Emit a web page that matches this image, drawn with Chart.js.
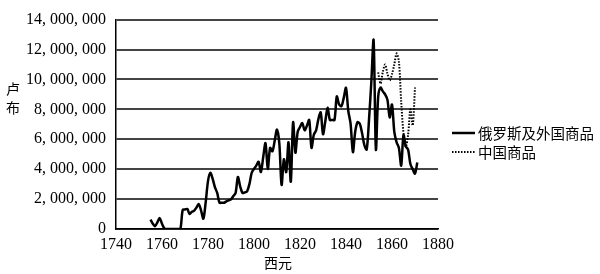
<!DOCTYPE html>
<html>
<head>
<meta charset="utf-8">
<script src="https://cdn.jsdelivr.net/npm/chart.js@4/dist/chart.umd.min.js"></script>
<style>
  body { margin: 0; background: #fff; }
  canvas { display: block; }
</style>
</head>
<body>
<canvas id="chart_c" width="600" height="274"></canvas>
<script>
// years on the x axis, values in millions of roubles
const years = []
for (let y = 1755; y <= 1871; y++) years.push(y)

const russianForeign = [
  0.63, 0.35, 0.19, 0.45, 0.73, 0.35, 0.05, 0, 0, 0,      // 1755-1764
  0, 0, 0, 0, 1.27, 1.3, 1.34, 1.01, 1.15, 1.23,          // 1765-1774
  1.44, 1.66, 1.23, 0.69, 1.8, 3.2, 3.76, 3.37, 2.8, 2.41, // 1775-1784
  1.76, 1.76, 1.76, 1.85, 1.92, 1.98, 2.2, 2.41, 3.48, 2.84, // 1785-1794
  2.41, 2.45, 2.52, 3.0, 3.76, 4.02, 4.24, 4.5, 3.81, 4.8,  // 1795-1804
  5.74, 4.02, 5.42, 5.2, 5.9, 6.65, 5.74, 2.95, 4.66, 3.8,  // 1805-1814
  5.79, 3.16, 7.14, 5.1, 6.5, 6.82, 7.08, 6.6, 6.9, 7.29,   // 1815-1824
  5.42, 6.3, 6.6, 7.35, 7.79, 6.34, 7.2, 8.11, 7.29, 7.29,  // 1825-1834
  7.29, 8.86, 8.32, 8.21, 8.75, 9.44, 7.89, 7.03, 5.14, 6.5, // 1835-1844
  7.14, 7.03, 6.4, 5.6, 5.31, 7.3, 9.8, 12.63, 5.31, 8.86,  // 1845-1854
  9.46, 9.2, 9.0, 8.65, 7.46, 8.32, 6.5, 5.8, 5.42, 4.24,   // 1855-1864
  6.28, 5.53, 5.31, 4.34, 4.0, 3.7, 4.45                    // 1865-1871
]

const chineseFirstYear = 1854
const chinese = [
  10.47, 9.72, 10.5, 11.0, 10.4, 9.94, 10.35, 11.0, 11.74, 11.2, // 1854-1863
  8.5, 6.4, 5.5, 6.3, 8.0, 6.92, 9.46                              // 1864-1870
]

const seriesNames = ['俄罗斯及外国商品', '中国商品']
const yTicks = [0, 2, 4, 6, 8, 10, 12, 14]
const xTicks = [1740, 1760, 1780, 1800, 1820, 1840, 1860, 1880]

const serif = '"Liberation Serif", "Times New Roman", serif'
const cjk = '"Noto Sans CJK SC", sans-serif'

const fmt = (v) => {
  const n = Math.round(v * 1000000)
  return n === 0 ? '0' : n.toLocaleString('en-US').replace(/,/g, ', ')
}

const extras = {
  id: 'extras',
  afterDraw(chart) {
    const ctx = chart.ctx
    ctx.save()
    ctx.fillStyle = '#000'
    ctx.font = '14px ' + cjk
    ctx.textAlign = 'center'
    ctx.textBaseline = 'middle'
    // y title, stacked
    ctx.fillText('卢', 13, 89)
    ctx.fillText('布', 13, 108)
    // x title
    ctx.fillText('西元', 278, 263)

    // legend
    ctx.font = '14.5px ' + cjk
    ctx.textAlign = 'left'
    ctx.strokeStyle = '#000'
    ctx.lineWidth = 2.5
    ctx.beginPath(); ctx.moveTo(452, 133); ctx.lineTo(475, 133); ctx.stroke()
    ctx.lineWidth = 2
    ctx.setLineDash([1.5, 1.5])
    ctx.beginPath(); ctx.moveTo(452, 152); ctx.lineTo(475, 152); ctx.stroke()
    ctx.setLineDash([])
    ctx.fillText(seriesNames[0], 478, 133)
    ctx.fillText(seriesNames[1], 478, 152)
    ctx.restore()
  }
}

new Chart(document.getElementById('chart_c'), {
  type: 'line',
  data: {
    datasets: [
      {
        label: seriesNames[0],
        data: years.map((y, i) => ({ x: y, y: russianForeign[i] })),
        borderColor: '#000',
        borderWidth: 2.5,
        pointRadius: 0,
        tension: 0.3,
        fill: false
      },
      {
        label: seriesNames[1],
        data: chinese.map((v, i) => ({ x: chineseFirstYear + i, y: v })),
        borderColor: '#000',
        borderWidth: 2,
        borderDash: [1.5, 1.5],
        pointRadius: 0,
        tension: 0.3,
        fill: false
      }
    ]
  },
  options: {
    responsive: false,
    animation: false,
    layout: { padding: { top: 6, right: 162, left: 0, bottom: 0 } },
    plugins: { legend: { display: false }, tooltip: { enabled: false } },
    scales: {
      x: {
        type: 'linear',
        min: 1740,
        max: 1880,
        afterBuildTicks: (s) => { s.ticks = xTicks.map(v => ({ value: v })) },
        afterFit: (s) => { s.height = 45 },
        grid: { display: false, drawTicks: false },
        border: { display: true, color: '#000', width: 1.5 },
        ticks: {
          padding: 6,
          color: '#000',
          font: { family: serif, size: 16 },
          maxRotation: 0,
          callback: (v) => String(v)
        }
      },
      y: {
        min: 0,
        max: 14,
        afterBuildTicks: (s) => { s.ticks = yTicks.map(v => ({ value: v })) },
        afterFit: (s) => { s.width = 116 },
        grid: { color: '#444', lineWidth: 2, drawTicks: false },
        border: { display: true, color: '#000', width: 1.5 },
        ticks: {
          padding: 10,
          color: '#000',
          font: { family: serif, size: 16 },
          callback: (v) => fmt(v)
        }
      }
    }
  },
  plugins: [extras]
})
</script>
</body>
</html>
